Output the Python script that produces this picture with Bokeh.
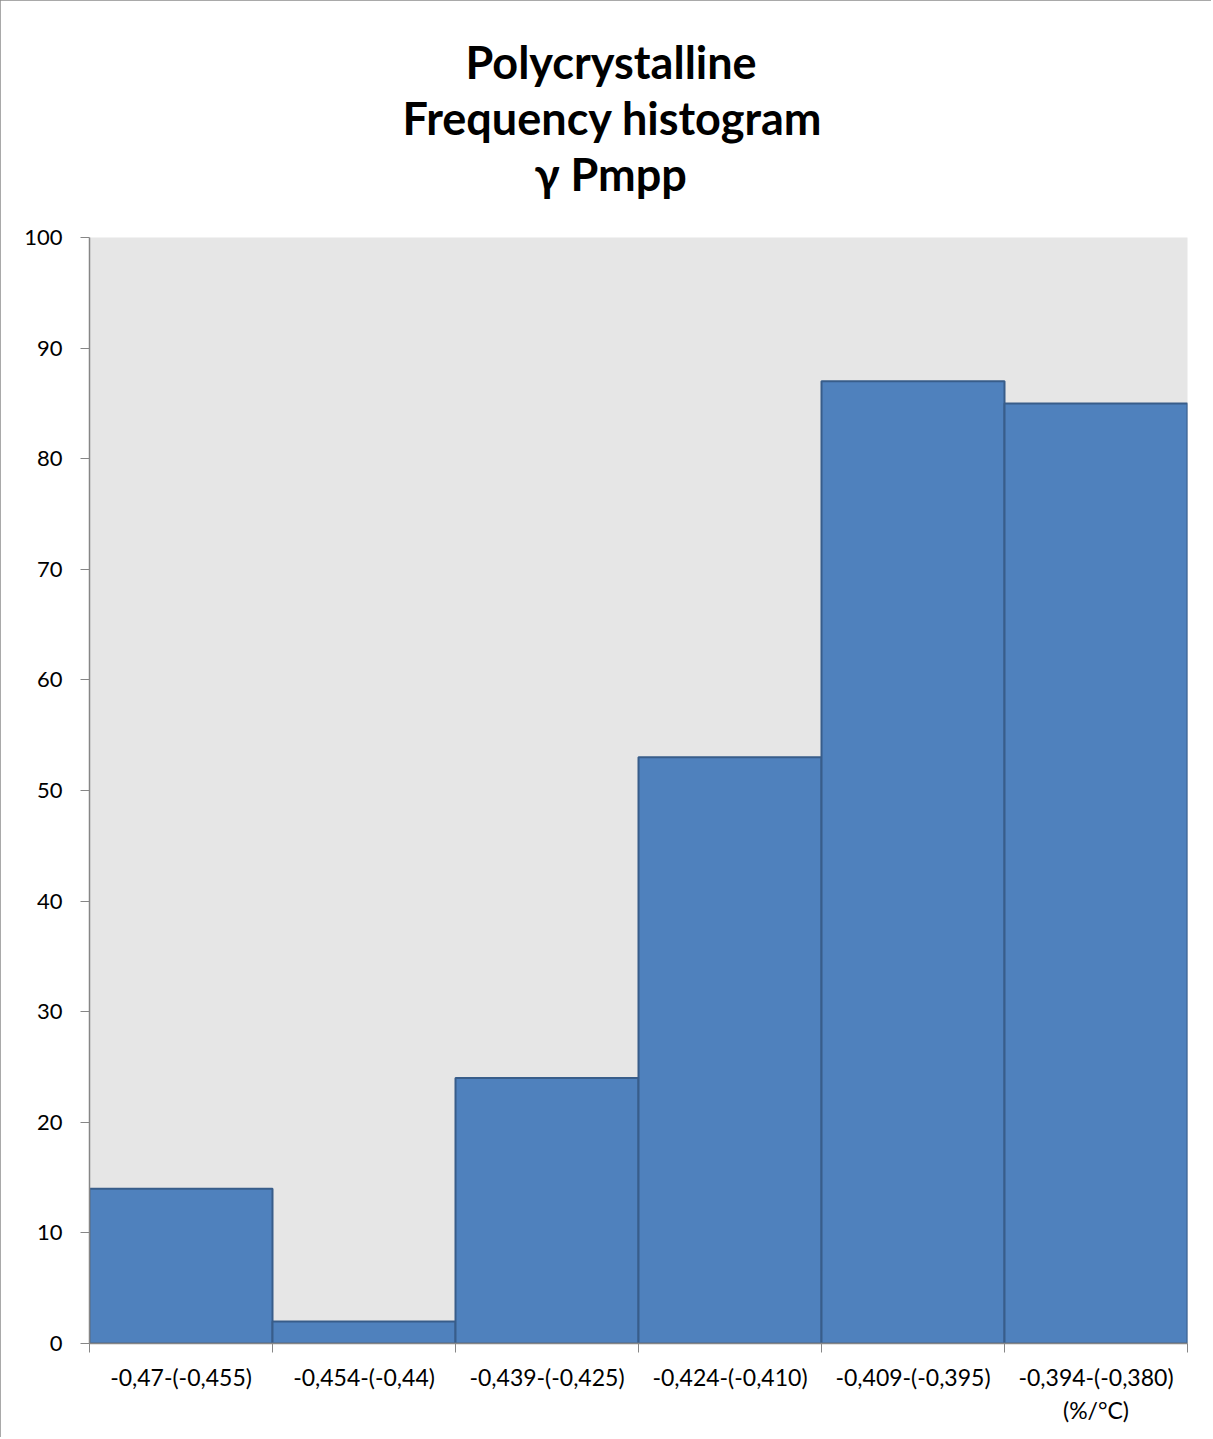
from bokeh.plotting import figure
from bokeh.models import Range1d, FixedTicker, Title, ColumnDataSource
from bokeh.embed import file_html
from bokeh.resources import INLINE

categories = ["-0,47-(-0,455)", "-0,454-(-0,44)", "-0,439-(-0,425)",
              "-0,424-(-0,410)", "-0,409-(-0,395)", "-0,394-(-0,380)\n(%/°C)"]
counts = [14, 2, 24, 53, 87, 85]
y_ticks = [0, 10, 20, 30, 40, 50, 60, 70, 80, 90, 100]
title_lines = ["Polycrystalline", "Frequency histogram", "γ Pmpp"]
title_offsets = [376, 313, 445]   # left offsets that centre each line over the chart

FONT = "Lato"
n = len(categories)
centers = [i + 0.5 for i in range(n)]
bounds = list(range(n + 1))

p = figure(width=1211, height=1437, output_backend="svg", toolbar_location=None,
           x_range=Range1d(0, n), y_range=Range1d(0, 100),
           min_border_left=89, min_border_right=24, min_border_bottom=94, min_border_top=237)
p.border_fill_color = "white"
p.background_fill_color = "#E6E6E6"
p.outline_line_color = None
p.grid.visible = False

src = ColumnDataSource(dict(x=centers, top=counts))
p.vbar(x="x", top="top", width=1, bottom=0, source=src,
       fill_color="#4F81BD", line_color="#385D8A", line_width=2)

# spacer between title block and frame
p.add_layout(Title(text=" ", text_font_size="31px", standoff=0), "above")
for line, off in zip(reversed(title_lines), reversed(title_offsets)):
    p.add_layout(Title(text=line, align="left", offset=off, text_font=FONT,
                       text_font_style="bold", text_font_size="45px",
                       text_color="black", standoff=0), "above")

xa = p.xaxis[0]
xa.ticker = FixedTicker(ticks=centers, minor_ticks=bounds)
xa.major_label_overrides = {c: lab for c, lab in zip(centers, categories)}
xa.major_tick_out = 0
xa.major_tick_in = 0
xa.minor_tick_out = 9
xa.minor_tick_in = 0
xa.minor_tick_line_color = "#868686"
xa.axis_line_color = "#868686"
xa.axis_line_width = 1.5
xa.major_label_text_font = FONT
xa.major_label_text_font_size = "23px"
xa.major_label_text_color = "black"
xa.major_label_standoff = 10

ya = p.yaxis[0]
ya.ticker = FixedTicker(ticks=y_ticks)
ya.minor_tick_line_color = None
ya.major_tick_out = 9
ya.major_tick_in = 0
ya.major_tick_line_color = "#868686"
ya.axis_line_color = "#868686"
ya.axis_line_width = 1.5
ya.major_label_text_font = FONT
ya.major_label_text_font_size = "22px"
ya.major_label_text_color = "black"
ya.major_label_standoff = 18

p.styles = {"outline": "2px solid #8c8c8c", "outline-offset": "-2px"}

open("out.html", "w").write(file_html(p, INLINE))
